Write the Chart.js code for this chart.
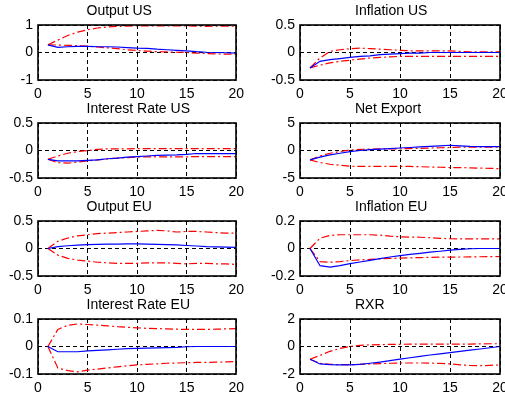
<!DOCTYPE html>
<html>
<head>
<meta charset="utf-8">
<script src="https://cdn.jsdelivr.net/npm/chart.js@4.4.0/dist/chart.umd.min.js"></script>
<style>
  html, body { margin: 0; padding: 0; background: #fff; overflow: hidden; width: 505px; height: 398px; }
  canvas { position: absolute; }
</style>
</head>
<body>
<script>
// ---------- DATA ----------
const periods = [1,2,3,4,5,6,7,8,9,10,11,12,13,14,15,16,17,18,19,20];
const xTicks = [0,5,10,15,20];

const titles = ["Output US","Inflation US","Interest Rate US","Net Export","Output EU","Inflation EU","Interest Rate EU","RXR"];
const yLimits = [1, 0.5, 0.5, 5, 0.5, 0.2, 0.1, 2];

const outputUS_irf   = [0.28,0.19,0.21,0.22,0.22,0.21,0.21,0.2,0.18,0.16,0.15,0.12,0.1,0.08,0.06,0.03,0.01,0.0,-0.01,-0.02];
const outputUS_upper = [0.28,0.45,0.62,0.74,0.83,0.89,0.93,0.95,0.96,0.97,0.97,0.97,0.97,0.97,0.97,0.96,0.95,0.96,0.96,0.96];
const outputUS_lower = [0.28,0.27,0.26,0.25,0.23,0.2,0.17,0.14,0.1,0.07,0.05,0.03,0.02,0.01,0.0,-0.02,-0.04,-0.05,-0.06,-0.06];

const inflUS_irf   = [-0.28,-0.16,-0.13,-0.11,-0.09,-0.07,-0.06,-0.04,-0.03,-0.02,-0.01,-0.01,0,0,0,0,0,0,0,0];
const inflUS_upper = [-0.28,-0.1,0.02,0.05,0.07,0.08,0.07,0.06,0.05,0.04,0.03,0.03,0.03,0.03,0.03,0.02,0.01,0.01,0.01,0.01];
const inflUS_lower = [-0.28,-0.23,-0.19,-0.16,-0.14,-0.12,-0.1,-0.09,-0.08,-0.07,-0.07,-0.07,-0.07,-0.07,-0.07,-0.07,-0.07,-0.07,-0.07,-0.07];

const rateUS_irf   = [-0.16,-0.19,-0.19,-0.19,-0.18,-0.17,-0.15,-0.14,-0.12,-0.11,-0.1,-0.09,-0.085,-0.08,-0.07,-0.055,-0.055,-0.055,-0.055,-0.055];
const rateUS_upper = [-0.16,-0.1,-0.05,-0.02,0.0,0.02,0.03,0.03,0.03,0.035,0.035,0.035,0.035,0.035,0.035,0.035,0.035,0.035,0.035,0.035];
const rateUS_lower = [-0.16,-0.22,-0.23,-0.21,-0.19,-0.17,-0.155,-0.14,-0.13,-0.12,-0.115,-0.115,-0.115,-0.115,-0.115,-0.11,-0.11,-0.11,-0.11,-0.11];

const netExp_irf   = [-1.7,-1.2,-0.8,-0.5,-0.2,0.0,0.15,0.25,0.35,0.45,0.55,0.65,0.75,0.85,0.95,0.85,0.75,0.7,0.7,0.7];
const netExp_upper = [-1.7,-1.0,-0.5,-0.2,0.1,0.2,0.25,0.3,0.3,0.3,0.35,0.4,0.45,0.5,0.55,0.6,0.6,0.6,0.6,0.6];
const netExp_lower = [-1.7,-2.2,-2.5,-2.7,-2.85,-2.9,-2.9,-2.9,-2.9,-2.9,-2.9,-2.95,-3.0,-3.05,-3.1,-3.1,-3.15,-3.2,-3.25,-3.3];

const outputEU_irf   = [0.0,0.035,0.05,0.06,0.07,0.075,0.08,0.08,0.085,0.085,0.08,0.075,0.07,0.065,0.055,0.045,0.035,0.03,0.025,0.02];
const outputEU_upper = [0.0,0.13,0.19,0.23,0.25,0.27,0.28,0.29,0.3,0.31,0.32,0.33,0.32,0.3,0.31,0.31,0.3,0.29,0.28,0.28];
const outputEU_lower = [0.0,-0.12,-0.18,-0.21,-0.23,-0.25,-0.26,-0.27,-0.27,-0.27,-0.26,-0.26,-0.26,-0.27,-0.28,-0.27,-0.27,-0.28,-0.28,-0.29];

const inflEU_irf   = [0.0,-0.125,-0.135,-0.125,-0.11,-0.098,-0.086,-0.074,-0.062,-0.052,-0.043,-0.035,-0.027,-0.02,-0.012,-0.006,-0.002,0.0,0.0,0.0];
const inflEU_upper = [0.0,0.075,0.095,0.1,0.1,0.1,0.1,0.097,0.09,0.085,0.083,0.082,0.078,0.074,0.071,0.07,0.07,0.07,0.07,0.07];
const inflEU_lower = [0.0,-0.095,-0.1,-0.095,-0.088,-0.083,-0.079,-0.075,-0.072,-0.07,-0.068,-0.066,-0.064,-0.063,-0.063,-0.062,-0.061,-0.06,-0.059,-0.058];

const rateEU_irf   = [0.0,-0.019,-0.019,-0.019,-0.016,-0.014,-0.012,-0.01,-0.008,-0.007,-0.006,-0.005,-0.004,-0.003,-0.001,0,0,0,0,0];
const rateEU_upper = [0.0,0.062,0.077,0.082,0.08,0.078,0.075,0.072,0.07,0.068,0.066,0.065,0.064,0.063,0.062,0.062,0.062,0.063,0.064,0.065];
const rateEU_lower = [0.0,-0.078,-0.088,-0.092,-0.086,-0.082,-0.078,-0.074,-0.07,-0.067,-0.065,-0.063,-0.061,-0.06,-0.059,-0.058,-0.058,-0.057,-0.056,-0.055];

const rxr_irf   = [-0.93,-1.27,-1.32,-1.34,-1.34,-1.3,-1.22,-1.13,-1.03,-0.92,-0.82,-0.72,-0.62,-0.53,-0.44,-0.36,-0.27,-0.18,-0.09,0.0];
const rxr_upper = [-0.93,-0.65,-0.35,-0.14,0.0,0.08,0.12,0.14,0.15,0.16,0.17,0.17,0.17,0.17,0.18,0.18,0.18,0.19,0.2,0.2];
const rxr_lower = [-0.93,-1.22,-1.3,-1.32,-1.32,-1.3,-1.27,-1.25,-1.22,-1.2,-1.2,-1.2,-1.21,-1.23,-1.27,-1.33,-1.38,-1.4,-1.37,-1.34];

const irfSeries   = [outputUS_irf, inflUS_irf, rateUS_irf, netExp_irf, outputEU_irf, inflEU_irf, rateEU_irf, rxr_irf];
const upperSeries = [outputUS_upper, inflUS_upper, rateUS_upper, netExp_upper, outputEU_upper, inflEU_upper, rateEU_upper, rxr_upper];
const lowerSeries = [outputUS_lower, inflUS_lower, rateUS_lower, netExp_lower, outputEU_lower, inflEU_lower, rateEU_lower, rxr_lower];

// ---------- LAYOUT ----------
const FONT = '"Liberation Sans", Arial, sans-serif';
const colLayout = [
  { left: 0,   width: 250, yAxisW: 38, padRight: 13, titleX: 86.5 },
  { left: 250, width: 275, yAxisW: 50, padRight: 25, titleX: 355 }
];
const rowTop = [0, 98, 196, 294];
const CANVAS_H = 98, PAD_TOP = 25, XAXIS_H = 18;

const toXY = arr => arr.map((v, i) => ({ x: periods[i], y: v }));

const boxAndTitle = {
  id: 'boxAndTitle',
  afterDraw(chart, args, opts) {
    const { ctx, chartArea: a } = chart;
    ctx.save();
    ctx.strokeStyle = '#000';
    ctx.lineWidth = 1.6;
    ctx.setLineDash([]);
    ctx.strokeRect(Math.round(a.left), Math.round(a.top),
                   Math.round(a.right - a.left), Math.round(a.bottom - a.top));
    ctx.fillStyle = '#000';
    ctx.font = '14px ' + FONT;
    ctx.textAlign = 'left';
    ctx.textBaseline = 'alphabetic';
    ctx.fillText(opts.text, opts.x, a.top - 10.5);
    ctx.restore();
  }
};

for (let p = 0; p < 8; p++) {
  const col = colLayout[p % 2];
  const row = Math.floor(p / 2);
  const lim = yLimits[p];
  const cv = document.createElement('canvas');
  cv.width = col.width; cv.height = CANVAS_H;
  cv.style.left = col.left + 'px'; cv.style.top = rowTop[row] + 'px';
  cv.style.width = col.width + 'px'; cv.style.height = CANVAS_H + 'px';
  document.body.appendChild(cv);

  new Chart(cv, {
    type: 'line',
    data: {
      datasets: [
        { data: toXY(irfSeries[p]), borderColor: '#0000ff', borderWidth: 1.2, pointRadius: 0, tension: 0, fill: false },
        { data: toXY(upperSeries[p]), borderColor: '#ff0000', borderWidth: 1.2, borderDash: [8,3,2,3], pointRadius: 0, tension: 0, fill: false },
        { data: toXY(lowerSeries[p]), borderColor: '#ff0000', borderWidth: 1.2, borderDash: [8,3,2,3], pointRadius: 0, tension: 0, fill: false }
      ]
    },
    options: {
      responsive: false,
      animation: false,
      devicePixelRatio: 1,
      layout: { padding: { top: PAD_TOP, right: col.padRight, left: 0, bottom: 0 } },
      plugins: {
        legend: { display: false },
        tooltip: { enabled: false },
        boxAndTitle: { text: titles[p], x: col.titleX - col.left }
      },
      scales: {
        x: {
          type: 'linear', min: 0, max: 20,
          afterBuildTicks: s => { s.ticks = xTicks.map(v => ({ value: v })); },
          afterFit: s => { s.height = XAXIS_H; },
          ticks: { color: '#000', font: { family: FONT, size: 14 }, padding: 6, maxRotation: 0, autoSkip: false, callback: v => String(v) },
          grid: { color: '#000', lineWidth: 1, drawTicks: false },
          border: { display: false, dash: [4,3] }
        },
        y: {
          type: 'linear', min: -lim, max: lim,
          afterBuildTicks: s => { s.ticks = [-lim, 0, lim].map(v => ({ value: v })); },
          afterFit: s => { s.width = col.yAxisW; },
          ticks: { color: '#000', font: { family: FONT, size: 14 }, padding: 5, autoSkip: false, callback: v => String(v) },
          grid: { color: '#000', lineWidth: 1, drawTicks: false },
          border: { display: false, dash: [4,3] }
        }
      }
    },
    plugins: [boxAndTitle]
  });
}
</script>
</body>
</html>
